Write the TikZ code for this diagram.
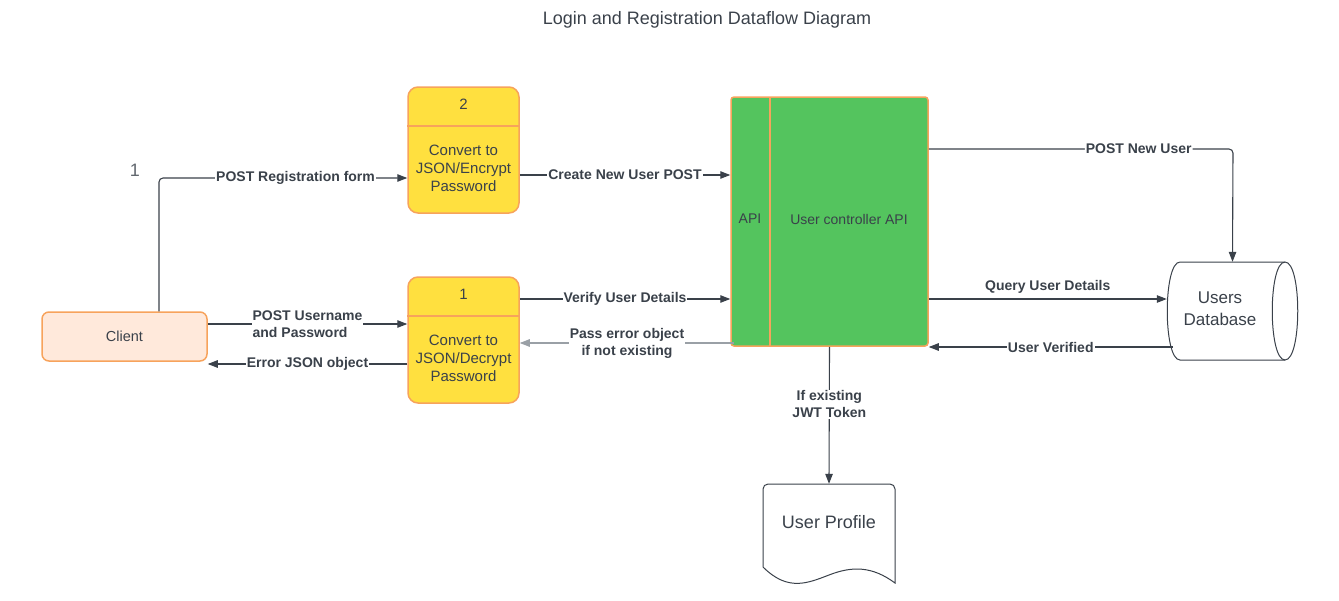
\documentclass[tikz,border=0pt]{standalone}
\usepackage{fontspec}
\setmainfont{Liberation Sans}
\usetikzlibrary{arrows.meta,calc,positioning}

\definecolor{ink}{HTML}{3A414A}
\definecolor{lgray}{HTML}{9AA0A6}
\definecolor{edge}{HTML}{F7A35C}
\definecolor{procfill}{HTML}{FFE03F}
\definecolor{clientfill}{HTML}{FFE9DB}
\definecolor{apifill}{HTML}{54C45E}

\begin{document}
\begin{tikzpicture}[x=1pt,y=-1pt,text=ink,
  flow/.style={draw=ink,line width=1.1pt,-{Triangle[length=10pt,width=7.5pt]}},
  lbl/.style={fill=white,inner sep=1pt,align=center,font=\bfseries\fontsize{14}{17}\selectfont},
  proc/.style={draw=edge,fill=procfill,line width=1.5pt,rounded corners=10pt,
    minimum width=111pt,minimum height=126pt,inner sep=0pt},
  ptext/.style={align=center,font=\fontsize{15}{18}\selectfont}]
  \useasboundingbox (0,0) rectangle (1339,600);

  \node (title) at (707,20) {\fontsize{18}{22}\selectfont Login and Registration Dataflow Diagram};
  \node[text=ink!80] (n1) at (135,170) {\fontsize{18}{22}\selectfont 1};

  % client
  \node[draw=edge,fill=clientfill,line width=1.5pt,rounded corners=7pt,
    minimum width=165pt,minimum height=49pt,font=\fontsize{14.5}{17}\selectfont] (cl) at (124.5,336.5) {Client};

  % processes
  \node[proc] (p2) at (463.5,150) {};
  \draw[edge,line width=1.3pt] (p2.west |- 0,126) -- (p2.east |- 0,126);
  \node[ptext] (p2num) at (463.5,104) {2};
  \node[ptext] (p2txt) at (463.5,168) {Convert to\\JSON/Encrypt\\Password};

  \node[proc] (p1) at (463.5,340) {};
  \draw[edge,line width=1.3pt] (p1.west |- 0,316) -- (p1.east |- 0,316);
  \node[ptext] (p1num) at (463.5,294) {1};
  \node[ptext] (p1txt) at (463.5,358) {Convert to\\JSON/Decrypt\\Password};

  % api
  \node[draw=edge,fill=apifill,line width=1.5pt,rounded corners=3pt,
    minimum width=197pt,minimum height=249pt] (api) at (829.5,221.5) {};
  \draw[edge,line width=1.3pt] (770,97) -- (770,346);
  \node[font=\fontsize{14}{17}\selectfont] (apil) at (750,219) {API};
  \node[font=\fontsize{14}{17}\selectfont] (apit) at (849,219) {User controller API};

  % database
  \draw[ink,line width=1pt,fill=white] (1180,262) -- (1285,262)
    .. controls (1302,262) and (1302,360) .. (1285,360) -- (1180,360)
    .. controls (1163,360) and (1163,262) .. (1180,262) -- cycle;
  \draw[ink,line width=1pt] (1285,262) .. controls (1268,262) and (1268,360) .. (1285,360);
  \node[minimum width=131pt,minimum height=98pt] (db) at (1232.5,311) {};
  \node[align=center,font=\fontsize{17}{22}\selectfont] (dbt) at (1220,309) {Users\\Database};

  % user profile
  \draw[ink,line width=1pt,fill=white] (763,567) [rounded corners=5pt] -- (763,484) -- (895,484)
    [sharp corners] -- (895,583)
    .. controls (872,566) and (852,566) .. (829,575)
    .. controls (808,583) and (788,592) .. (763,567) -- cycle;
  \node[minimum width=132pt,minimum height=98pt] (up) at (829,533) {};
  \node[font=\fontsize{18}{22}\selectfont] (upt) at (829,522) {User Profile};

  % flows
  \draw[flow,rounded corners=4pt] (cl.north -| 159,0) -- (159,178)
    -- node[lbl,pos=0.55]{POST Registration form} (p2.west |- 0,178);
  \draw[flow] (cl.east |- 0,324) -- node[lbl,align=left]{POST Username\\and Password} (p1.west |- 0,324);
  \draw[flow] (p1.west |- 0,364) -- node[lbl]{Error JSON object} (cl.east |- 0,364);
  \draw[flow] (p2.east |- 0,175) -- node[lbl]{Create New User POST} (api.west |- 0,175);
  \draw[flow] (p1.east |- 0,299) -- node[lbl]{Verify User Details} (api.west |- 0,299);
  \draw[flow,draw=lgray] ($(api.west |- 0,343)+(4,0)$) -- node[lbl]{Pass error object\\if not existing} (p1.east |- 0,343);
  \draw[flow,rounded corners=4pt] (api.east |- 0,149) -- node[lbl,pos=0.69]{POST New User} (1233,149) -- (db.north);
  \draw[flow] (api.east |- 0,299) -- node[lbl,fill=none,above=4pt]{Query User Details} (db.west |- 0,299);
  \draw[flow] ($(db.west |- 0,347)+(6,0)$) -- node[lbl]{User Verified} (api.east |- 0,347);
  \draw[flow] (api.south) -- node[lbl,pos=0.42]{If existing\\JWT Token} (up.north);
\end{tikzpicture}
\end{document}
